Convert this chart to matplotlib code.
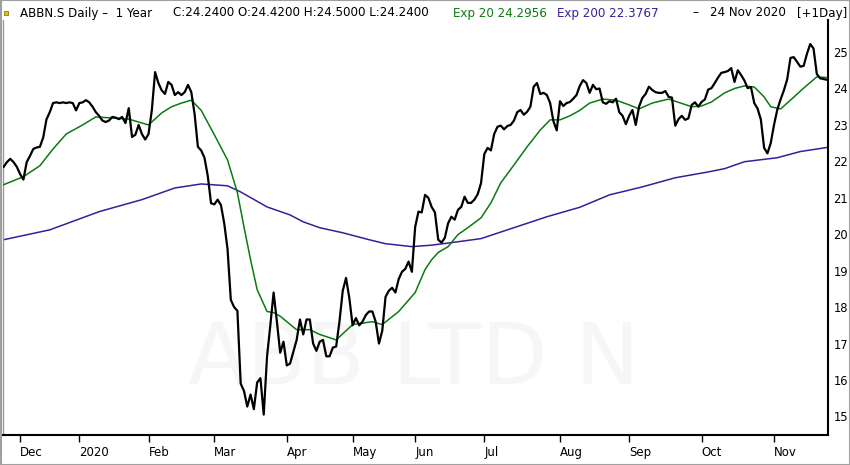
import numpy as np
import pandas as pd
import matplotlib
matplotlib.use("Agg")
import matplotlib.pyplot as plt
import matplotlib.transforms as mtransforms
from matplotlib.patches import Rectangle

# trading calendar (SIX holidays in the window)
start_day = "2019-11-25"
end_day = "2020-11-24"
holidays = ["2019-12-24", "2019-12-25", "2019-12-26", "2019-12-31",
            "2020-01-01", "2020-01-02", "2020-04-10", "2020-04-13",
            "2020-05-01", "2020-05-21", "2020-06-01"]

# daily close, one value per trading day
close = [21.85, 21.98, 22.07, 21.98, 21.85, 21.65, 21.5, 21.98, 22.15, 22.34,
         22.38, 22.4, 22.65, 23.15, 23.35, 23.6, 23.62, 23.6, 23.62, 23.6,
         23.62, 23.6, 23.4, 23.6, 23.62, 23.68, 23.62, 23.5, 23.35, 23.25,
         23.12, 23.08, 23.12, 23.22, 23.2, 23.16, 23.22, 23.05, 23.46, 22.67,
         22.73, 23.0, 22.75, 22.6, 22.75, 23.4, 24.45, 24.15, 23.95, 23.85,
         24.18, 24.1, 23.82, 23.9, 23.82, 23.9, 24.1, 23.9, 23.3, 22.4,
         22.3, 22.1, 21.6, 20.85, 20.82, 20.95, 20.8, 20.3, 19.6, 18.2,
         18.0, 17.9, 15.9, 15.7, 15.27, 15.6, 15.2, 15.93, 16.05, 15.05,
         16.64, 17.5, 18.4, 17.6, 16.75, 17.05, 16.4, 16.45, 16.78, 17.1,
         17.66, 17.25, 17.66, 17.66, 17.0, 16.8, 17.05, 17.1, 16.65, 16.65,
         16.89, 16.92, 17.6, 18.45, 18.8, 18.25, 17.5, 17.7, 17.5, 17.6,
         17.78, 17.88, 17.88, 17.6, 17.0, 17.35, 18.28, 18.45, 18.53, 18.4,
         18.77, 18.97, 19.05, 19.25, 18.97, 20.2, 20.62, 20.6, 21.08, 21.0,
         20.75, 20.6, 19.85, 19.77, 19.9, 20.3, 20.48, 20.4, 20.67, 20.75,
         21.03, 20.86, 20.86, 20.95, 21.1, 21.4, 22.2, 22.37, 22.3, 22.75,
         22.95, 22.98, 22.88, 22.97, 23.0, 23.12, 23.35, 23.41, 23.28, 23.36,
         23.5, 24.05, 24.15, 23.85, 23.88, 23.82, 23.6, 23.1, 22.85, 23.65,
         23.52, 23.6, 23.63, 23.72, 23.82, 24.07, 24.23, 24.15, 23.88, 24.1,
         23.98, 24.0, 23.62, 23.58, 23.65, 23.62, 23.72, 23.35, 23.25, 23.02,
         23.25, 23.41, 23.0, 23.5, 23.74, 23.85, 24.05, 23.96, 23.9, 23.88,
         23.88, 23.93, 23.77, 23.75, 22.98, 23.16, 23.25, 23.14, 23.18, 23.55,
         23.62, 23.5, 23.63, 23.7, 23.97, 24.01, 24.15, 24.3, 24.43, 24.45,
         24.48, 24.56, 24.18, 24.5, 24.37, 24.22, 24.01, 24.04, 23.6, 23.45,
         23.15, 22.37, 22.22, 22.5, 23.0, 23.42, 23.7, 23.95, 24.25, 24.84,
         24.86, 24.73, 24.6, 24.62, 24.95, 25.22, 25.1, 24.4, 24.28, 24.26,
         24.24]

# moving averages (trading day number, value)
ema20_day = [0, 6, 11, 15, 19, 24, 28, 33, 38, 41, 44, 48, 51, 54, 57, 60, 64, 68,
             71, 73, 75, 77, 80, 82, 84, 86, 89, 93, 96, 101, 106, 112, 115,
             120, 125, 128, 130, 132, 135, 138, 141, 145, 148, 151, 155, 159,
             163, 166, 169, 172, 175, 178, 182, 186, 190, 193, 197, 202, 205,
             209, 212, 215, 219, 222, 225, 228, 231, 233, 236, 239, 243, 247, 250]
ema20_val = [21.36, 21.58, 21.88, 22.34, 22.75, 23.0, 23.22, 23.19, 23.16,
             23.08, 23.0, 23.33, 23.5, 23.6, 23.68, 23.4, 22.73, 22.04, 21.14, 20.2,
             19.3, 18.48, 17.88, 17.85, 17.75, 17.6, 17.38, 17.38, 17.25, 17.1,
             17.52, 17.6, 17.52, 17.88, 18.4, 19.03, 19.3, 19.5, 19.66, 19.99,
             20.18, 20.45, 20.86, 21.41, 21.9, 22.4, 22.86, 23.14, 23.14, 23.25,
             23.4, 23.6, 23.71, 23.68, 23.55, 23.44, 23.6, 23.71, 23.62, 23.5,
             23.52, 23.63, 23.88, 24.0, 24.07, 24.04, 23.77, 23.5, 23.44, 23.68,
             24.01, 24.32, 24.30]

ema200_day = [0, 14, 29, 42, 52, 60, 68, 72, 80, 87, 91, 96, 103, 111, 116,
              124, 130, 136, 145, 155, 165, 175, 184, 194, 204, 214, 219, 225,
              235, 242, 250]
ema200_val = [19.85, 20.12, 20.62, 20.95, 21.27, 21.38, 21.33, 21.16, 20.75,
              20.53, 20.34, 20.18, 20.04, 19.85, 19.74, 19.66, 19.7, 19.77,
              19.88, 20.18, 20.48, 20.74, 21.08, 21.3, 21.55, 21.71, 21.8,
              21.99, 22.1, 22.27, 22.38]

y_ticks = list(range(15, 26))

dates = pd.bdate_range(start_day, end_day, freq="C", holidays=holidays)
days = np.arange(len(dates))
month_start = [i for i in days if i == 0 or dates[i].month != dates[i - 1].month][1:]
month_names = ["2020" if dates[i].month == 1 else dates[i].strftime("%b") for i in month_start]

W, H = 850, 465
fig = plt.figure(figsize=(W / 100, H / 100), dpi=100)
fig.patch.set_facecolor("white")
ax = fig.add_axes([3 / W, 1 - 435 / H, 825 / W, 415 / H])

ax.plot(ema200_day, ema200_val, color="#3a1d9a", lw=1.1, zorder=2)
ax.plot(ema20_day, ema20_val, color="#0b7a12", lw=1.1, zorder=3)
ax.plot(days, close, color="black", lw=1.6, zorder=4)

ax.text(0.498, 0.178, "ABB LTD N", transform=ax.transAxes, ha="center", va="center",
        fontsize=62, color="#f6f6f6", zorder=0)

ax.set_xlim(-0.2, len(dates) - 0.6)
ax.set_ylim(14.49, 25.88)

ax.set_xticks(month_start)
ax.set_xticklabels(month_names, ha="left")
offset = mtransforms.ScaledTranslation(2 / 100, 0, fig.dpi_scale_trans)
for lbl in ax.get_xticklabels():
    lbl.set_transform(lbl.get_transform() + offset)
ax.tick_params(axis="x", direction="out", length=5, width=1, pad=3,
               labelsize=8.5, colors="black")

ax.yaxis.tick_right()
ax.set_yticks(y_ticks)
ax.set_yticklabels([str(v) for v in y_ticks])
ax.tick_params(axis="y", length=0, pad=4, labelsize=8.3)

ax.spines["top"].set_visible(False)
ax.spines["left"].set_color("#9a9a9a")
ax.spines["left"].set_linewidth(1.0)
ax.spines["right"].set_linewidth(1.5)
ax.spines["bottom"].set_linewidth(1.5)

# header line
ty = 1 - 13 / H
fs = 8.6
fig.text(20 / W, ty, "ABBN.S Daily \u2013  1 Year", fontsize=fs, va="center")
fig.text(173 / W, ty, "C:24.2400 O:24.4200 H:24.5000 L:24.2400", fontsize=fs, va="center")
fig.text(453 / W, ty, "Exp 20 24.2956", fontsize=fs, va="center", color="#0b7a12")
fig.text(557 / W, ty, "Exp 200 22.3767", fontsize=fs, va="center", color="#3a1d9a")
fig.text(692 / W, ty, "\u2013", fontsize=fs, va="center")
fig.text(710 / W, ty, "24 Nov 2020", fontsize=fs, va="center")
fig.text(797 / W, ty, "[+1Day]", fontsize=fs, va="center")
fig.patches.append(Rectangle((4 / W, 1 - 15 / H), 4 / W, 4 / H, transform=fig.transFigure,
                             facecolor="#e8c000", edgecolor="#806000", lw=0.5))

# outer frame
fig.patches.append(Rectangle((0.5 / W, 0.5 / H), 1 - 1 / W, 1 - 1 / H, transform=fig.transFigure,
                             fill=False, edgecolor="#a0a0a0", lw=1.5))

fig.savefig("out.png", dpi=100)
